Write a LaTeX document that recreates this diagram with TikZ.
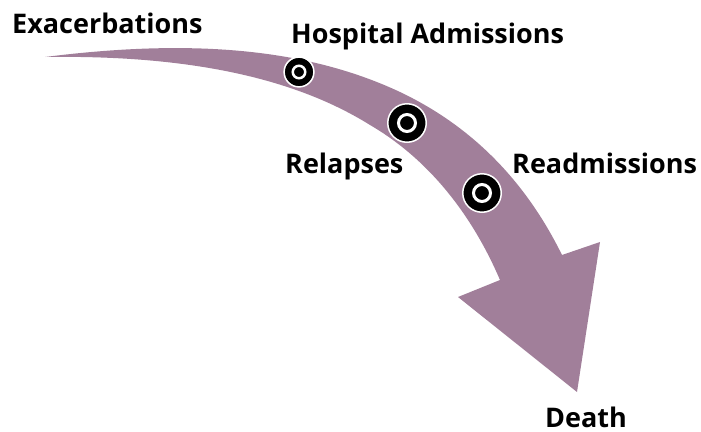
\documentclass[tikz,border=0pt]{standalone}
\usepackage{fontspec}
\setmainfont{Open Sans}
\definecolor{mauve}{RGB}{161,127,154}

\tikzset{
  lbl/.style={anchor=base west, inner sep=0pt, font=\fontsize{27}{30}\selectfont\bfseries},
  ring/.style={circle, fill=black, draw=white, inner sep=0pt, minimum size=#1},
}

\begin{document}
\begin{tikzpicture}[x=1pt, y=-1pt]
    \useasboundingbox (0,0) rectangle (701,431);

    % Curved arrow (shaft widens from the tail, then the head)
    \fill[mauve] (45,57) .. controls (180,40) and (300,45) .. (400,92)
        .. controls (480,130) and (530,190) .. (562,255)
        -- (600,242) -- (577,392) -- (458,297) -- (500,280)
        .. controls (470,210) and (425,157) .. (370,125)
        .. controls (290,75) and (180,55) .. (45,57) -- cycle;

    % Markers on the arrow
    \node[ring=29.8pt, line width=1.5pt] (hospdot) at (299,72) {};
    \node[ring=12.5pt, line width=2.5pt] at (hospdot) {};
    \node[ring=38.5pt, line width=1.5pt] (relapsedot) at (407,123) {};
    \node[ring=17pt, line width=3pt] at (relapsedot) {};
    \node[ring=38.5pt, line width=1.5pt] (readmdot) at (482,193) {};
    \node[ring=17pt, line width=3pt] at (readmdot) {};

    % Labels
    \node[lbl] (exac) at (12,33) {Exacerbations};
    \node[lbl] (hosp) at (291,43) {Hospital Admissions};
    \node[lbl] (relapse) at (285,173) {Relapses};
    \node[lbl] (readm) at (512,173) {Readmissions};
    \node[lbl] (death) at (545,427) {Death};
\end{tikzpicture}
\end{document}
